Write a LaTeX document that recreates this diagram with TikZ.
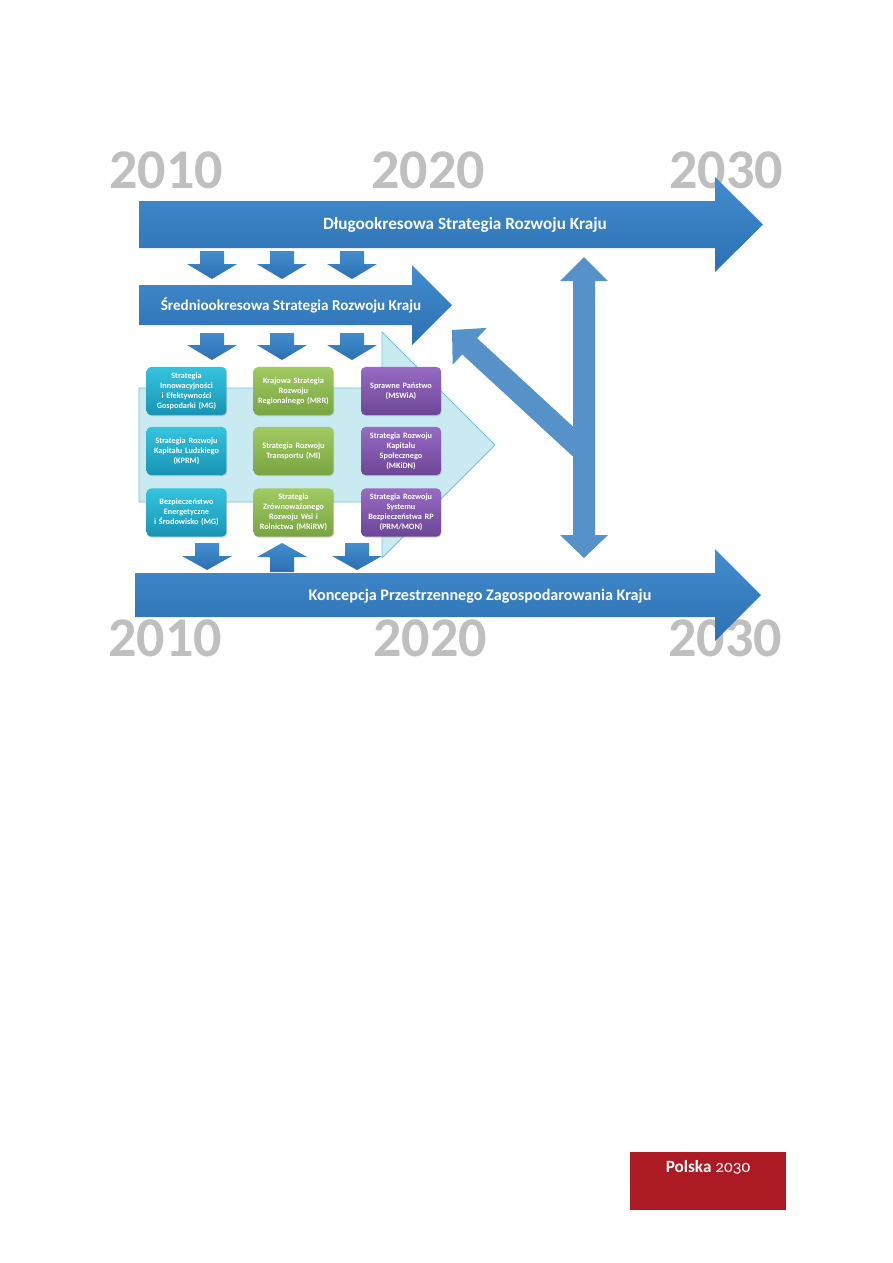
\documentclass[tikz,border=0pt]{standalone}
\usepackage{fontspec}
\setmainfont{Carlito}
\usepackage{tikz}
\usetikzlibrary{shadows}

\definecolor{arrowtop}{RGB}{66,141,206}
\definecolor{arrowbot}{RGB}{44,112,178}
\definecolor{linkblue}{RGB}{86,146,201}
\definecolor{planfill}{RGB}{200,234,240}
\definecolor{planline}{RGB}{112,196,212}
\definecolor{yeargray}{RGB}{191,191,191}
\definecolor{tealtop}{RGB}{52,196,222}
\definecolor{tealbot}{RGB}{24,148,180}
\definecolor{greentop}{RGB}{163,202,98}
\definecolor{greenbot}{RGB}{120,164,66}
\definecolor{violettop}{RGB}{152,106,196}
\definecolor{violetbot}{RGB}{108,70,150}
\definecolor{polskared}{RGB}{172,27,36}

\begin{document}
\begin{tikzpicture}[x=0.023516cm,y=-0.023516cm,
  year/.style={text=yeargray,font=\fontsize{37.5}{38}\selectfont\bfseries,inner sep=0pt},
  band/.style={top color=arrowtop,bottom color=arrowbot},
  bandlabel/.style={text=white,font=\bfseries,inner sep=0pt},
  strat/.style={rounded corners=3pt,minimum width=1.88cm,minimum height=1.13cm,
    text width=1.8cm,align=center,text=white,inner sep=0pt,
    font=\fontsize{5.5}{6.7}\selectfont\bfseries,
    drop shadow={opacity=0.35,shadow xshift=0.5pt,shadow yshift=-0.7pt}},
  teal/.style={strat,top color=tealtop,bottom color=tealbot},
  green/.style={strat,top color=greentop,bottom color=greenbot},
  violet/.style={strat,top color=violettop,bottom color=violetbot}]
\useasboundingbox (0,0) rectangle (893,1263);

% years
\node[year] (y10top) at (166,170) {2010};
\node[year] (y20top) at (428,170) {2020};
\node[year] (y30top) at (726,170) {2030};
\node[year] (y10bot) at (165,638) {2010};
\node[year] (y20bot) at (430,638) {2020};
\node[year] (y30bot) at (725,638) {2030};

% long-term strategy
\shade[band] (139,201) -- (715,201) -- (715,177) -- (763,224.5) -- (715,272) -- (715,248) -- (139,248) -- cycle;
\node[bandlabel,font=\fontsize{11.5}{13}\selectfont\bfseries] (dlugo) at (465,225) {Długookresowa Strategia Rozwoju Kraju};
\foreach \cx in {212,282,352}
  \shade[band] (\cx-12,251) -- (\cx+12,251) -- (\cx+12,264) -- (\cx+25,264) -- (\cx,279) -- (\cx-25,264) -- (\cx-12,264) -- cycle;

% mid-term strategy
\shade[band] (139,285) -- (412,285) -- (412,265) -- (452,305) -- (412,345) -- (412,325) -- (139,325) -- cycle;
\node[bandlabel,font=\fontsize{10.1}{12}\selectfont\bfseries] (srednio) at (291,305) {Średniookresowa Strategia Rozwoju Kraju};
\foreach \cx in {212,282,352}
  \shade[band] (\cx-12,333) -- (\cx+12,333) -- (\cx+12,345) -- (\cx+25,345) -- (\cx,360) -- (\cx-25,345) -- (\cx-12,345) -- cycle;

% nine strategies
\filldraw[fill=planfill,draw=planline,line width=0.5pt] (139,388) -- (382,388) -- (382,332) -- (495,445) -- (382,558) -- (382,502) -- (139,502) -- cycle;
\node[teal] (innow) at (186.5,391) {Strategia\\Innowacyjności\\i Efektywności\\Gospodarki (MG)};
\node[teal] (kapludz) at (186.5,451) {Strategia Rozwoju\\Kapitału Ludzkiego\\(KPRM)};
\node[teal] (energ) at (186.5,512.5) {Bezpieczeństwo\\Energetyczne\\i Środowisko (MG)};
\node[green] (region) at (293.5,391) {Krajowa Strategia\\Rozwoju\\Regionalnego (MRR)};
\node[green] (transp) at (293.5,451) {Strategia Rozwoju\\Transportu (MI)};
\node[green] (wies) at (293.5,512.5) {Strategia\\Zrównoważonego\\Rozwoju Wsi i\\Rolnictwa (MRiRW)};
\node[violet] (panstwo) at (401,391) {Sprawne Państwo\\(MSWiA)};
\node[violet] (kapspol) at (401,451) {Strategia Rozwoju\\Kapitału\\Społecznego\\(MKiDN)};
\node[violet] (bezp) at (401,512.5) {Strategia Rozwoju\\Systemu\\Bezpieczeństwa RP\\(PRM/MON)};

% spatial concept
\foreach \cx in {207,357}
  \shade[band] (\cx-12,543) -- (\cx+12,543) -- (\cx+12,556) -- (\cx+25,556) -- (\cx,570) -- (\cx-25,556) -- (\cx-12,556) -- cycle;
\shade[band] (282,543) -- (307,557) -- (294,557) -- (294,572) -- (270,572) -- (270,557) -- (257,557) -- cycle;
\shade[band] (135,573) -- (715,573) -- (715,549) -- (761,595) -- (715,641) -- (715,617) -- (135,617) -- cycle;
\node[bandlabel,font=\fontsize{10.8}{12}\selectfont\bfseries] (koncepcja) at (480,596) {Koncepcja Przestrzennego Zagospodarowania Kraju};

% links
\fill[linkblue] (587.5,439.9) -- (477.1,338.2) -- (486.7,327.9) -- (452,330) -- (452.7,364.7) -- (462.2,354.4) -- (572.5,456.1) -- cycle;
\fill[linkblue] (584,257) -- (608,281) -- (595,281) -- (595,535) -- (608,535) -- (584,558) -- (560,535) -- (573,535) -- (573,281) -- (560,281) -- cycle;

% footer
\fill[polskared] (630,1152) rectangle (786,1210);
\node[anchor=base,text=white,inner sep=0pt,font=\fontsize{11.5}{12}\selectfont] (polska) at (708,1172)
  {\textbf{Polska} {\addfontfeatures{Numbers=OldStyle}2030}};
\end{tikzpicture}
\end{document}
